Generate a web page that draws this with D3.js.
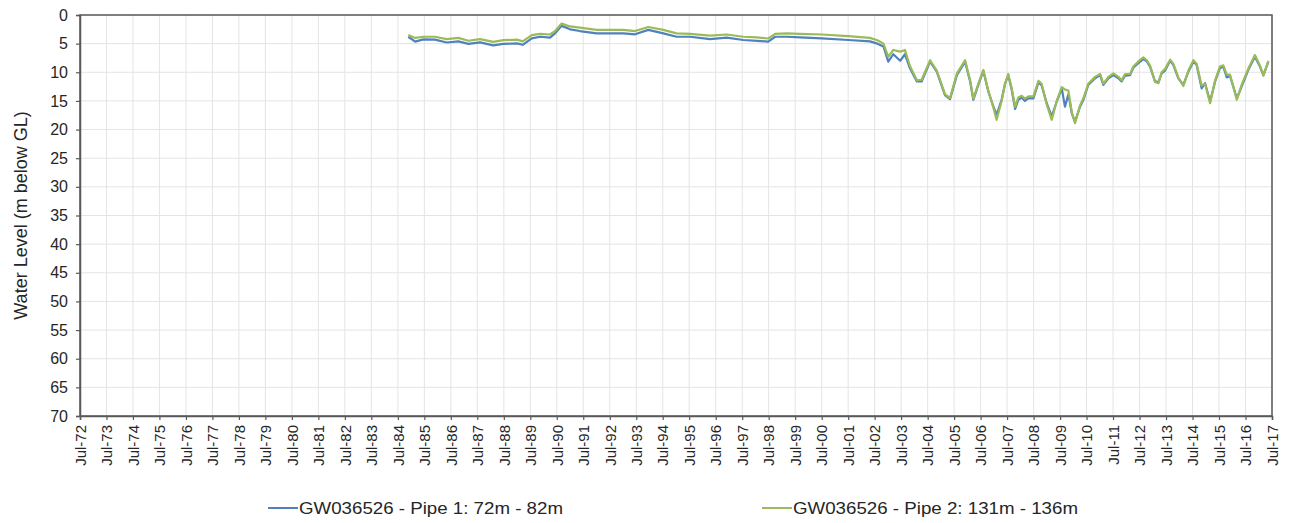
<!DOCTYPE html>
<html>
<head>
<meta charset="utf-8">
<script src="https://cdn.jsdelivr.net/npm/d3@7"></script>
<style>
  body { margin: 0; background: #fff; }
  text { font-family: "Liberation Sans", Arial, sans-serif; }
</style>
</head>
<body>
<svg width="1293" height="523"></svg>
<script>
// series data (decimal year, metres below ground level)
var pipe1Dates = [1984.89, 1985.15, 1985.46, 1985.9, 1986.34, 1986.78, 1987.16, 1987.6, 1988.1, 1988.48,
  1988.99, 1989.21, 1989.55, 1989.87, 1990.24, 1990.43, 1990.68, 1991.0, 1991.37, 1992.0,
  1992.5, 1993.01, 1993.45, 1993.95, 1994.52, 1995.02, 1995.53, 1996.28, 1996.91, 1997.54,
  1998.05, 1998.48, 1998.74, 1999.18, 1999.68, 2000.5, 2001.5, 2002.32, 2002.6, 2002.83,
  2003.01, 2003.2, 2003.46, 2003.64, 2003.83, 2004.09, 2004.27, 2004.59, 2004.84, 2005.15,
  2005.34, 2005.6, 2005.91, 2006.1, 2006.22, 2006.41, 2006.6, 2006.79, 2006.98, 2007.1,
  2007.29, 2007.42, 2007.54, 2007.67, 2007.8, 2007.92, 2008.05, 2008.17, 2008.3, 2008.49,
  2008.68, 2008.8, 2008.99, 2009.18, 2009.37, 2009.56, 2009.68, 2009.81, 2009.94, 2010.06,
  2010.25, 2010.38, 2010.56, 2010.82, 2011.01, 2011.13, 2011.32, 2011.51, 2011.7, 2011.82,
  2011.95, 2012.14, 2012.26, 2012.45, 2012.64, 2012.77, 2012.89, 2013.08, 2013.21, 2013.33,
  2013.46, 2013.65, 2013.77, 2013.96, 2014.15, 2014.34, 2014.53, 2014.65, 2014.84, 2014.97,
  2015.16, 2015.35, 2015.53, 2015.66, 2015.79, 2015.91, 2016.17, 2016.35, 2016.6, 2016.85,
  2017.04, 2017.17, 2017.36];
var pipe1Level = [3.8, 4.65, 4.25, 4.3, 4.8, 4.6, 5.05, 4.77, 5.3, 5.05,
  4.95, 5.2, 4.07, 3.8, 3.95, 3.2, 1.9, 2.5, 2.8, 3.2,
  3.2, 3.2, 3.37, 2.6, 3.2, 3.8, 3.8, 4.2, 3.96, 4.36,
  4.5, 4.65, 3.8, 3.8, 3.9, 4.07, 4.36, 4.6, 5.0, 5.5,
  8.15, 6.85, 8.0, 6.85, 9.3, 11.6, 11.6, 8.15, 9.9, 14.0,
  14.7, 10.5, 8.15, 11.6, 14.8, 12.2, 9.77, 13.4, 16.0, 17.45,
  14.8, 12.0, 10.5, 13.0, 16.4, 14.8, 14.4, 15.0, 14.5, 14.55,
  11.75, 12.3, 15.4, 17.7, 15.1, 12.8, 16.0, 13.85, 17.2, 18.6,
  16.0, 14.8, 12.2, 11.05, 10.5, 12.2, 11.05, 10.5, 11.05, 11.6,
  10.6, 10.5, 9.2, 8.4, 7.7, 8.1, 9.0, 11.6, 11.7, 10.2,
  9.7, 8.0, 8.7, 11.05, 12.2, 9.9, 8.15, 8.7, 12.8, 11.9,
  15.1, 11.6, 9.3, 9.0, 10.9, 10.6, 14.55, 12.5, 9.6, 7.3,
  9.0, 10.5, 8.15];

var pipe2Dates = pipe1Dates;
var pipe2Level = [3.5, 4.0, 3.8, 3.8, 4.2, 4.0, 4.5, 4.2, 4.7, 4.4,
  4.3, 4.6, 3.5, 3.3, 3.4, 2.8, 1.5, 2.0, 2.2, 2.6,
  2.6, 2.6, 2.8, 2.1, 2.6, 3.2, 3.3, 3.6, 3.4, 3.8,
  3.9, 4.1, 3.3, 3.2, 3.3, 3.4, 3.7, 4.0, 4.4, 5.0,
  7.3, 6.1, 6.4, 6.1, 8.9, 11.4, 11.3, 7.9, 9.7, 13.8,
  14.5, 10.2, 7.9, 11.4, 14.6, 12.0, 9.6, 13.3, 16.2, 18.3,
  15.0, 12.0, 10.3, 12.8, 16.0, 14.4, 14.1, 14.6, 14.2, 14.2,
  11.5, 12.0, 15.6, 18.3, 15.0, 12.6, 13.0, 13.2, 17.0, 18.9,
  15.8, 14.5, 12.0, 10.8, 10.3, 12.0, 10.8, 10.2, 10.8, 11.4,
  10.3, 10.3, 9.0, 8.1, 7.4, 7.9, 8.8, 11.7, 11.9, 10.0,
  9.4, 7.8, 8.5, 10.9, 12.4, 9.7, 7.9, 8.5, 12.3, 12.0,
  15.4, 11.4, 9.0, 8.8, 10.4, 10.4, 14.8, 12.2, 9.4, 7.0,
  8.8, 10.6, 8.0];

var seriesNames = ["GW036526 - Pipe 1: 72m - 82m", "GW036526 - Pipe 2: 131m - 136m"];
var seriesColors = ["#4f81bd", "#9bbb59"];

var yTicks = [0, 5, 10, 15, 20, 25, 30, 35, 40, 45, 50, 55, 60, 65, 70];
var xTickYears = d3.range(1972, 2018);
var yTitle = "Water Level (m below GL)";

function decYearToDate(t) {
  var y = Math.floor(t);
  var start = new Date(y, 0, 1), end = new Date(y + 1, 0, 1);
  return new Date(start.getTime() + (t - y) * (end - start));
}

var svg = d3.select("svg");
var margin = {left: 80, right: 1272, top: 15, bottom: 416};

var x = d3.scaleTime()
  .domain([new Date(1972, 6, 1), new Date(2017, 6, 1)])
  .range([margin.left, margin.right]);
var y = d3.scaleLinear()
  .domain([0, 70])
  .range([margin.top, margin.bottom]);

var xTicks = xTickYears.map(function(yr) { return new Date(yr, 6, 1); });
var fmt = d3.timeFormat("%b-%y");

// gridlines
svg.append("g").selectAll("line").data(xTicks).enter().append("line")
  .attr("x1", function(d) { return x(d); }).attr("x2", function(d) { return x(d); })
  .attr("y1", margin.top).attr("y2", margin.bottom)
  .attr("stroke", "#e4e4e4").attr("stroke-width", 1);
svg.append("g").selectAll("line").data(yTicks).enter().append("line")
  .attr("x1", margin.left).attr("x2", margin.right)
  .attr("y1", function(d) { return y(d); }).attr("y2", function(d) { return y(d); })
  .attr("stroke", "#e4e4e4").attr("stroke-width", 1);

// lines
var line = d3.line()
  .x(function(d) { return x(d[0]); })
  .y(function(d) { return y(d[1]); });

var s1 = pipe1Dates.map(function(t, i) { return [decYearToDate(t), pipe1Level[i]]; });
var s2 = pipe2Dates.map(function(t, i) { return [decYearToDate(t), pipe2Level[i]]; });

svg.append("path").datum(s1)
  .attr("d", line).attr("fill", "none")
  .attr("stroke", seriesColors[0]).attr("stroke-width", 2.2).attr("stroke-linejoin", "round");
svg.append("path").datum(s2)
  .attr("d", line).attr("fill", "none")
  .attr("stroke", seriesColors[1]).attr("stroke-width", 2.2).attr("stroke-linejoin", "round");

// plot border
svg.append("rect")
  .attr("x", margin.left).attr("y", margin.top)
  .attr("width", margin.right - margin.left).attr("height", margin.bottom - margin.top)
  .attr("fill", "none").attr("stroke", "#595959").attr("stroke-width", 1.5);

// axes
var yAxis = svg.append("g")
  .attr("transform", "translate(" + margin.left + ",0)")
  .call(d3.axisLeft(y).tickValues(yTicks).tickSize(4).tickPadding(8));
var xAxis = svg.append("g")
  .attr("transform", "translate(0," + margin.bottom + ")")
  .call(d3.axisBottom(x).tickValues(xTicks).tickFormat(fmt).tickSize(4).tickPadding(6));

[yAxis, xAxis].forEach(function(g) {
  g.select(".domain").attr("stroke", "#595959").attr("stroke-width", 1.5);
  g.selectAll(".tick line").attr("stroke", "#595959").attr("stroke-width", 1.2);
  g.selectAll("text").attr("fill", "#262626").style("font-size", "15px")
    .style("font-family", "'Liberation Sans', Arial, sans-serif");
});
yAxis.selectAll("text").style("font-size", "16px");

xAxis.selectAll("text")
  .attr("text-anchor", "end")
  .attr("dy", "0.35em")
  .attr("transform", "rotate(-90)")
  .attr("x", -9).attr("y", 0);

// y title
svg.append("text")
  .attr("transform", "translate(21," + ((margin.top + margin.bottom) / 2) + ") rotate(-90)")
  .attr("text-anchor", "middle")
  .attr("dy", "0.35em")
  .style("font-size", "18px")
  .attr("fill", "#262626")
  .text(yTitle);

// legend
var legendX = [268, 762];
var legendW = [264, 285];
var legend = svg.append("g");
seriesNames.forEach(function(name, i) {
  legend.append("line")
    .attr("x1", legendX[i]).attr("x2", legendX[i] + 30)
    .attr("y1", 508).attr("y2", 508)
    .attr("stroke", seriesColors[i]).attr("stroke-width", 2);
  legend.append("text")
    .attr("x", legendX[i] + 31).attr("y", 508)
    .attr("dy", "0.35em")
    .attr("textLength", legendW[i])
    .attr("lengthAdjust", "spacingAndGlyphs")
    .style("font-size", "17px")
    .attr("fill", "#262626")
    .text(name);
});
</script>
</body>
</html>
